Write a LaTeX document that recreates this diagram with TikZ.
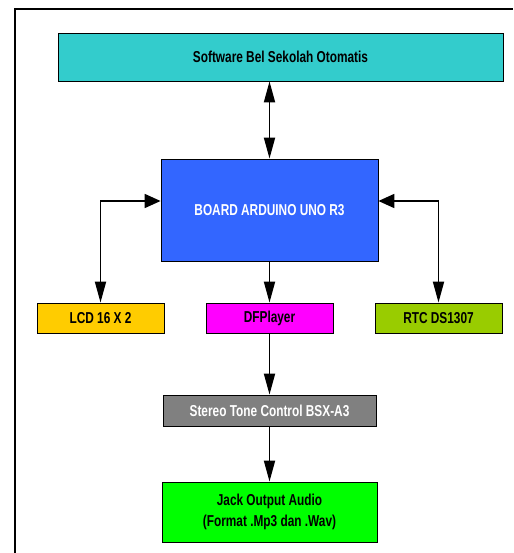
\documentclass[tikz,border=0pt]{standalone}
\usepackage{fontspec}
\setmainfont{Liberation Sans}[FakeStretch=0.75]
\usetikzlibrary{arrows.meta}
\definecolor{cteal}{HTML}{33CCCC}
\definecolor{cblue}{HTML}{3366FF}
\definecolor{cyel}{HTML}{FFCC00}
\definecolor{cmag}{HTML}{FF00FF}
\definecolor{colive}{HTML}{99CC00}
\definecolor{cgray}{HTML}{808080}
\definecolor{cgreen}{HTML}{00FF00}
\tikzset{
  blk/.style={draw=black, line width=0.8pt, inner sep=0pt, align=center,
    font=\bfseries\fontsize{15.8}{20.5}\selectfont},
  vtip/.tip={Triangle[length=21pt,width=11pt]},
  htip/.tip={Triangle[length=16pt,width=14pt]},
  conn/.style={line width=1.8pt},
}
\begin{document}
\begin{tikzpicture}[x=1pt,y=-1pt]
\useasboundingbox (0,0) rectangle (513,553);
\draw[line width=1.2pt] (15,553) -- (15,9) -- (513,9);
\node[blk, fill=cteal, minimum width=445pt, minimum height=48pt] (sw) at (280.5,57) {Software Bel Sekolah Otomatis};
\node[blk, fill=cblue, text=white, minimum width=217pt, minimum height=102pt] (board) at (269.5,210) {BOARD ARDUINO UNO R3};
\node[blk, fill=cyel, minimum width=127pt, minimum height=30pt] (lcd) at (100.5,318) {LCD 16 X 2};
\node[blk, fill=cmag, minimum width=127pt, minimum height=30pt] (df) at (269.5,318) {DFPlayer};
\node[blk, fill=colive, minimum width=127pt, minimum height=30pt] (rtc) at (438.5,318) {RTC DS1307};
\node[blk, fill=cgray, text=white, minimum width=213pt, minimum height=31pt] (st) at (269.5,410.5) {Stereo Tone Control BSX-A3};
\node[blk, fill=cgreen, minimum width=215pt, minimum height=60pt] (jack) at (269.5,512) {Jack Output Audio\\(Format .Mp3 dan .Wav)};
\draw[conn, vtip-vtip] (board.north) -- (board.north |- sw.south);
\draw[conn, htip-vtip] ([yshift=9pt]board.west) -| (lcd.north);
\draw[conn, htip-vtip] ([yshift=9pt]board.east) -| (rtc.north);
\draw[conn, -vtip] (board.south) -- (df.north);
\draw[conn, -vtip] (df.south) -- (st.north);
\draw[conn, -vtip] (st.south) -- (jack.north);
\end{tikzpicture}
\end{document}
